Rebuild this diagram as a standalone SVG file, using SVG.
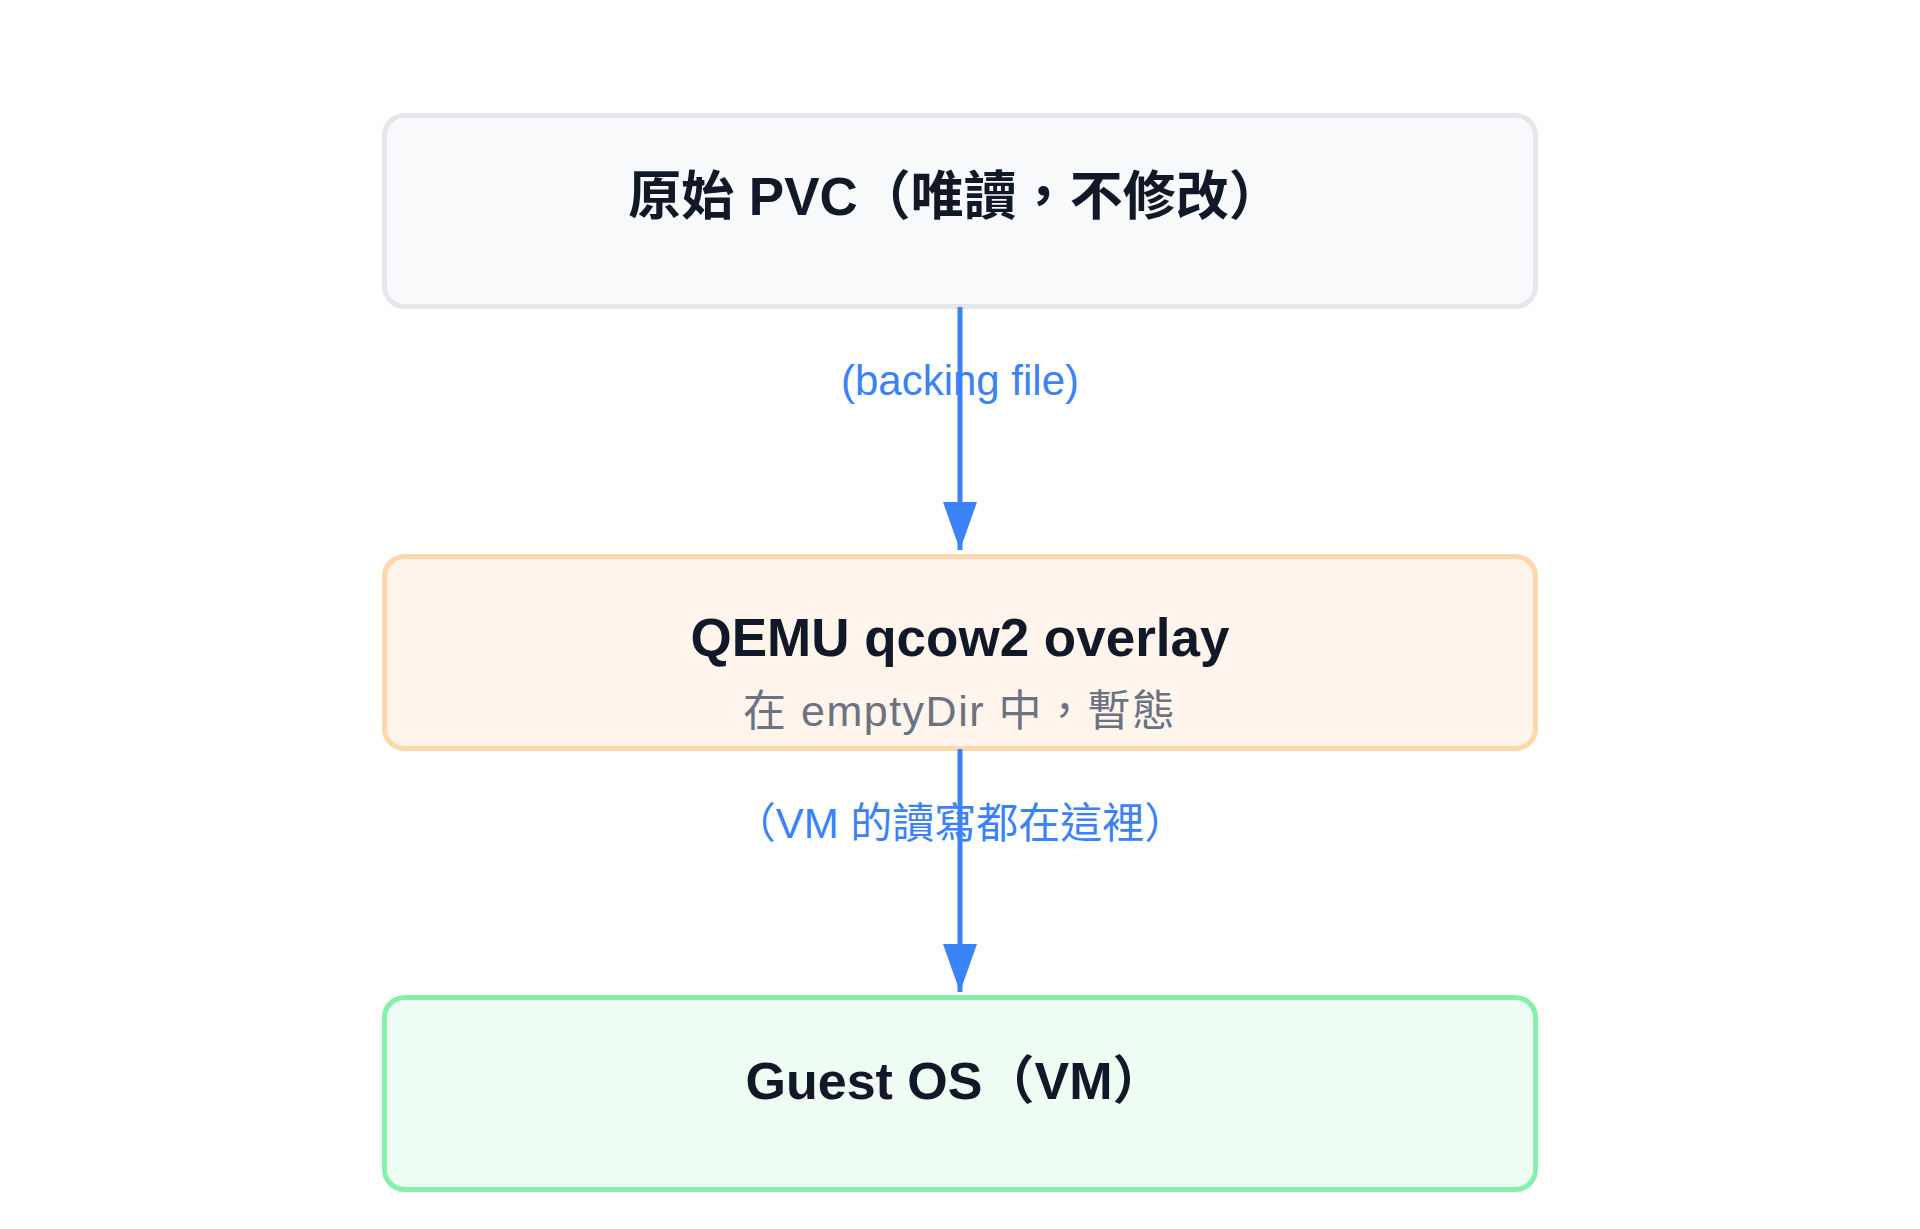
<svg xmlns="http://www.w3.org/2000/svg" width="1920" height="1229" viewBox="0 0 1920 1229">
<style>
.title{font-family:"Liberation Sans","Noto Sans CJK TC",sans-serif;font-size:53px;font-weight:700;fill:#111827;text-anchor:middle}
.sub{font-family:"Liberation Sans","Noto Sans CJK TC",sans-serif;font-size:43px;fill:#6b7280;text-anchor:middle}
.lbl{font-family:"Liberation Sans","Noto Sans CJK TC",sans-serif;font-size:42px;fill:#3b82f6;text-anchor:middle}
.edge{stroke:#3b82f6;stroke-width:5;fill:none}
.box{stroke-width:5}
</style>
<defs>
<marker id="arr" markerUnits="userSpaceOnUse" markerWidth="48" markerHeight="34" refX="48" refY="17" orient="auto" viewBox="0 0 48 34">
<path d="M0,0 L48,17 L0,34 Z" fill="#3b82f6"/>
</marker>
</defs>
<rect width="1920" height="1229" fill="#ffffff"/>
<g id="node-pvc">
<rect class="box" x="384.5" y="115.5" width="1151" height="191" rx="20" fill="#f8f9fb" stroke="#e5e7eb"/>
<text class="title" x="955" y="215">原始 PVC（唯讀，不修改）</text>
</g>
<g id="node-overlay">
<rect class="box" x="384.5" y="556.5" width="1151" height="192" rx="20" fill="#fff5ec" stroke="#fed7aa"/>
<text class="title" x="960" y="656">QEMU qcow2 overlay</text>
<text class="sub" x="959" y="726" textLength="432" lengthAdjust="spacing">在 emptyDir 中，暫態</text>
</g>
<g id="node-guest">
<rect class="box" x="384.5" y="997.5" width="1151" height="192" rx="20" fill="#effcf4" stroke="#86efac"/>
<text class="title" x="955" y="1099" style="font-size:52px">Guest OS（VM）</text>
</g>
<g id="connectors">
<g id="edge-1">
<line class="edge" x1="960" y1="307" x2="960" y2="550" marker-end="url(#arr)"/>
<text class="lbl" x="960" y="395">(backing file)</text>
</g>
<g id="edge-2">
<line class="edge" x1="960" y1="749" x2="960" y2="992" marker-end="url(#arr)"/>
<text class="lbl" x="960" y="838">（VM 的讀寫都在這裡）</text>
</g>
</g>
</svg>
